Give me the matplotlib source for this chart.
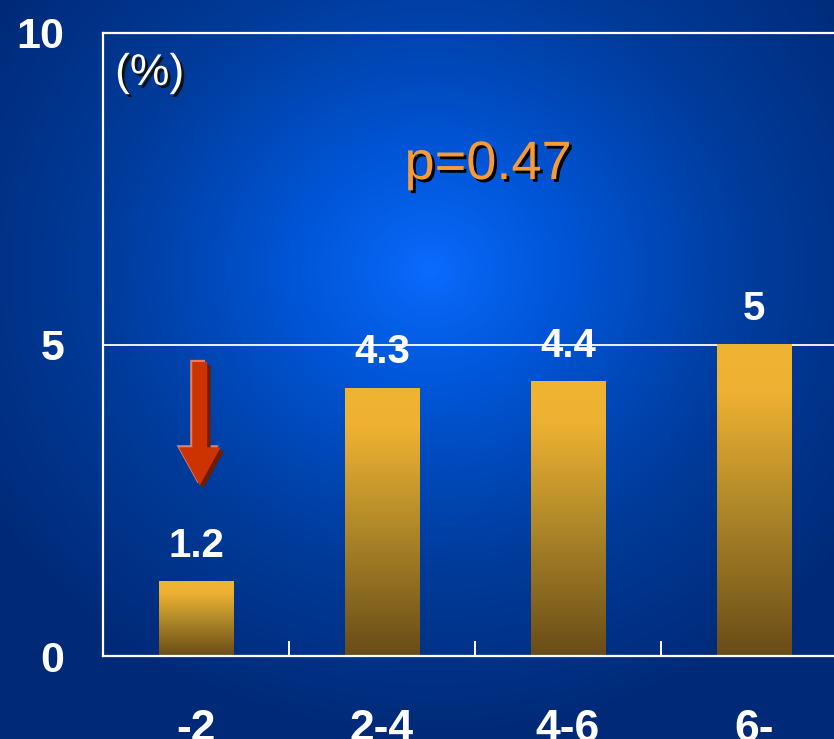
import matplotlib
matplotlib.use("Agg")
import matplotlib.pyplot as plt
import matplotlib.patheffects as pe
from matplotlib.colors import LinearSegmentedColormap
from matplotlib.patches import Polygon
import numpy as np

plt.rcParams['font.family'] = ['Liberation Sans', 'DejaVu Sans']

categories = ['-2', '2-4', '4-6', '6-']
values = [1.2, 4.3, 4.4, 5.0]
p_text = 'p=0.47'
unit_text = '(%)'

W, H = 834, 739
fig = plt.figure(figsize=(W / 100, H / 100), dpi=100)

# radial blue backdrop over the whole figure
bg = fig.add_axes([0, 0, 1, 1], zorder=0)
yy, xx = np.mgrid[0:H, 0:W]
r = np.sqrt(((xx - 430) / 520.0) ** 2 + ((yy - 270) / 470.0) ** 2)
r = np.clip(r, 0, 1) ** 0.85
blues = LinearSegmentedColormap.from_list('bl', ['#0a6cff', '#0054d4', '#003c9c', '#002a78'])
bg.imshow(r, cmap=blues, vmin=0, vmax=1, aspect='auto', extent=[0, W, H, 0])
bg.axis('off')

# plot area, right edge runs past the figure
left, right, top, bottom = 103, 847, 33, 656
ax = fig.add_axes([left / W, (H - bottom) / H, (right - left) / W, (bottom - top) / H], zorder=1)
ax.set_facecolor('none')
ax.set_xlim(-0.5, len(categories) - 0.5)
ax.set_ylim(0, 10)

x = np.arange(len(categories))
bar_w = 0.4
gold = LinearSegmentedColormap.from_list(
    'gold', [(0, '#684c18'), (0.5, '#b38b2a'), (0.85, '#eeb132'), (1, '#f0b432')])
grad = np.linspace(0, 1, 256).reshape(-1, 1)
for xi, v in zip(x, values):
    ax.imshow(grad, cmap=gold, origin='lower', aspect='auto',
              extent=[xi - bar_w / 2, xi + bar_w / 2, 0, v], zorder=2)
    ax.annotate(f'{v:g}', (xi, v), xytext=(0, 12), textcoords='offset points',
                ha='center', va='bottom', color='white', fontsize=29, fontweight='bold',
                zorder=4)

ax.spines['right'].set_visible(False)
for s in ['left', 'bottom', 'top']:
    ax.spines[s].set_color('white')
    ax.spines[s].set_linewidth(1.6)
ax.axhline(5, color='white', lw=1.3, zorder=1)

ax.set_yticks([0, 5, 10])
ax.set_yticklabels(['0', '5', '10'])
ax.set_xticks(x)
ax.set_xticklabels(categories)
ax.set_xticks(x[:-1] + 0.5, minor=True)
ax.tick_params(axis='y', length=0, pad=28, labelcolor='white', labelsize=31)
ax.tick_params(axis='x', which='major', length=0, pad=38, labelcolor='white', labelsize=32)
ax.tick_params(axis='x', which='minor', direction='in', length=11, width=1.4, color='white')
for lab in ax.get_xticklabels() + ax.get_yticklabels():
    lab.set_fontweight('bold')

# downward arrow over the first bar
ax_x, y0, y1 = 0.02, 4.72, 2.74
sw, hw, hl = 0.04, 0.113, 0.61
arrow = Polygon([(ax_x - sw, y0), (ax_x + sw, y0), (ax_x + sw, y1 + hl), (ax_x + hw, y1 + hl),
                 (ax_x, y1), (ax_x - hw, y1 + hl), (ax_x - sw, y1 + hl)],
                closed=True, facecolor='#cc3300', edgecolor='none', zorder=3)
arrow.set_path_effects([pe.SimplePatchShadow(offset=(-1.5, 1.5), shadow_rgbFace='#e88060', alpha=1),
                        pe.SimplePatchShadow(offset=(2.5, -2.5), shadow_rgbFace='#701c00', alpha=1),
                        pe.Normal()])
ax.add_patch(arrow)

ax.text(-0.435, 9.35, unit_text, ha='left', va='center', color='white', fontsize=32,
        path_effects=[pe.withSimplePatchShadow(offset=(2, -2), shadow_rgbFace='#111111', alpha=1)])
ax.text(1.57, 7.88, p_text, ha='center', va='center', color='#f79a38', fontsize=39,
        path_effects=[pe.withSimplePatchShadow(offset=(2, -2), shadow_rgbFace='#000000', alpha=1)])

fig.savefig('out.png', dpi=100)
